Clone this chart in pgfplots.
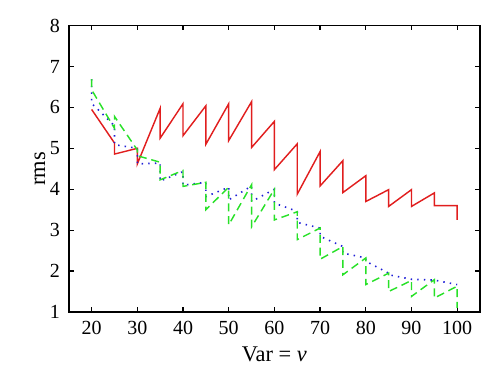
\documentclass[border=0pt]{standalone}
\usepackage{fontspec}
\setmainfont{Liberation Serif}
\usepackage{pgfplots}
\pgfplotsset{compat=1.18}
\definecolor{cred}{RGB}{225,30,30}
\definecolor{cgreen}{RGB}{40,225,40}
\definecolor{cblue}{RGB}{30,30,215}
\begin{document}
\begin{tikzpicture}
\begin{axis}[
  width=257pt, height=179pt, scale only axis,
  xmin=15, xmax=105, ymin=1, ymax=8,
  xtick={20,30,...,100}, ytick={1,2,...,8},
  tick align=inside, major tick length=3pt,
  axis line style={line width=0.9pt}, every tick/.style={line width=0.8pt, black},
  /pgf/number format/assume math mode=true,
  ticklabel style={font=\fontsize{12.5}{15}\selectfont},
  xticklabel style={yshift=-2pt},
  yticklabel style={xshift=-2pt},
  xlabel={Var = \textit{v}}, ylabel={rms},
  label style={font=\fontsize{14}{17}\selectfont},
  xlabel style={at={(axis description cs:0.5,-0.149)}, anchor=center},
  ylabel style={at={(axis description cs:-0.07,0.5)}, anchor=center},
]
\coordinate (ll) at (rel axis cs:0,0);
\coordinate (ur) at (rel axis cs:1,1);
\addplot[cred, line width=0.9pt] coordinates {
(20,5.95)(25,5.13)(25,4.86)(30,5.00)(30,4.62)(35,5.98)(35,5.25)(40,6.09)(40,5.31)
(45,6.04)(45,5.10)(50,6.09)(50,5.19)(55,6.14)(55,5.02)(60,5.66)(60,4.48)(65,5.11)
(65,3.88)(70,4.92)(70,4.08)(75,4.70)(75,3.92)(80,4.33)(80,3.70)(85,3.99)(85,3.58)
(90,3.99)(90,3.58)(95,3.91)(95,3.60)(100,3.60)(100,3.25)};
\addplot[cblue, line width=1pt, dash pattern=on 0.9pt off 3.2pt] coordinates {
(20,6.69)(20,6.10)(25,5.55)(25,5.09)(30,5.00)(30,4.62)(35,4.64)(35,4.20)(40,4.43)
(40,4.10)(45,4.17)(45,3.82)(50,4.05)(50,3.74)(55,4.08)(55,3.70)(60,4.00)(60,3.66)
(65,3.46)(65,3.19)(70,3.05)(70,2.85)(75,2.60)(75,2.44)(80,2.32)(80,2.24)(85,1.95)
(85,1.91)(90,1.80)(95,1.78)(100,1.67)};
\addplot[cgreen, line width=0.9pt, dash pattern=on 5pt off 3pt] coordinates {
(20,6.69)(20,6.43)(25,5.49)(25,5.78)(30,4.96)(30,4.82)(35,4.66)(35,4.23)(40,4.46)
(40,4.07)(45,4.17)(45,3.50)(50,4.05)(50,3.13)(55,4.11)(55,3.08)(60,4.00)(60,3.25)
(65,3.45)(65,2.77)(70,3.05)(70,2.29)(75,2.60)(75,1.91)(80,2.32)(80,1.67)(85,1.95)
(85,1.50)(90,1.77)(90,1.38)(95,1.79)(95,1.34)(100,1.63)(100,1.10)};
\end{axis}
\pgfresetboundingbox
\path ([xshift=-43pt,yshift=-47.3pt]ll) rectangle ([xshift=12.5pt,yshift=16pt]ur);
\end{tikzpicture}
\end{document}
